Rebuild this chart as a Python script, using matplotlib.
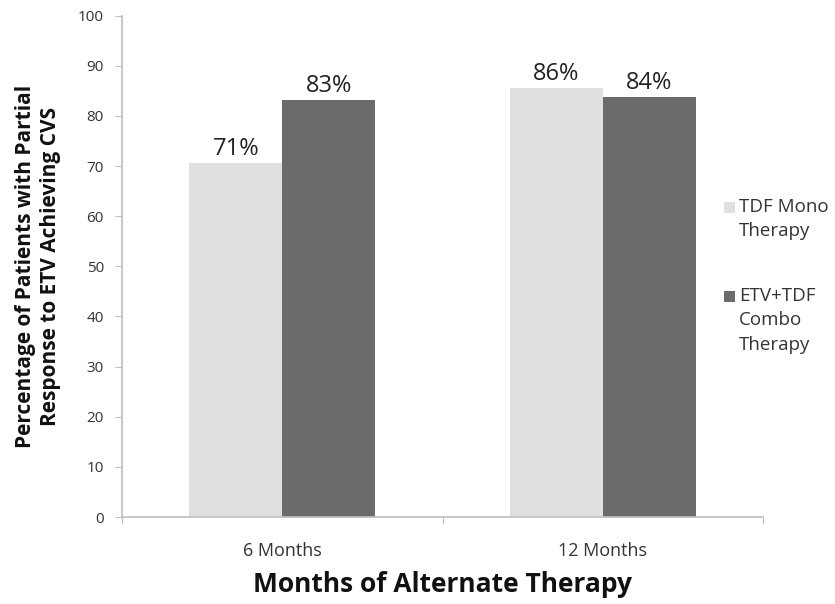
import numpy as np
import matplotlib
matplotlib.use("Agg")
import matplotlib.pyplot as plt
from matplotlib.patches import Rectangle

plt.rcParams['font.family'] = ['Open Sans', 'DejaVu Sans']

categories = ['6 Months', '12 Months']
series_names = ['TDF Mono\nTherapy', 'ETV+TDF\nCombo\nTherapy']
tdf_mono = [70.7, 85.6]
etv_tdf = [83.2, 83.8]
value_labels = [['71%', '86%'], ['83%', '84%']]
colors = ['#e0e0e0', '#6b6b6b']

W, H = 835, 604
fig = plt.figure(figsize=(W / 100, H / 100), dpi=100)
ax = fig.add_axes([0.146, 0.144, 0.768, 0.83])

x = np.arange(len(categories))
w = 0.29
for i, (vals, c) in enumerate(zip([tdf_mono, etv_tdf], colors)):
    pos = x + (i - 0.5) * w
    ax.bar(pos, vals, width=w, color=c, align='center', zorder=2)
    for p, v, lab in zip(pos, vals, value_labels[i]):
        ax.text(p, v + 0.4, lab, ha='center', va='bottom', fontsize=17, color='#222222')

ax.set_xlim(-0.5, 1.5)
ax.set_ylim(0, 100)
ax.set_yticks(range(0, 101, 10))
ax.set_xticks([-0.5, 0.5, 1.5])
ax.set_xticklabels([])
ax.set_xticks(x, minor=True)
ax.set_xticklabels(categories, minor=True)
ax.tick_params(axis='x', which='minor', length=0, pad=18, labelsize=13, labelcolor='#333333')
ax.tick_params(axis='x', which='major', length=5, color='#bfbfbf')
ax.tick_params(axis='y', length=5, color='#bfbfbf', labelsize=11, labelcolor='#333333', pad=8)

for s in ['top', 'right']:
    ax.spines[s].set_visible(False)
for s in ['left', 'bottom']:
    ax.spines[s].set_color('#bfbfbf')
    ax.spines[s].set_linewidth(1.2)

ax.set_ylabel('Percentage of Patients with Partial\nResponse to ETV Achieving CVS',
              fontsize=15, fontweight='bold', color='#111111', labelpad=12, linespacing=1.25)
ax.set_xlabel('Months of Alternate Therapy', fontsize=19, fontweight='bold',
              color='#111111', labelpad=8)

# legend drawn by hand so the swatch lines up with the first text line
leg_y = [207, 296]
for name, c, y in zip(series_names, colors, leg_y):
    fig.add_artist(Rectangle((724 / W, 1 - (y + 6) / H), 11 / W, 11 / H,
                             transform=fig.transFigure, facecolor=c, edgecolor='none'))
    fig.text(739 / W, 1 - (y - 9) / H, name, ha='left', va='top', fontsize=13.5,
             color='#333333', linespacing=1.45)

fig.savefig('out.png', dpi=100)
